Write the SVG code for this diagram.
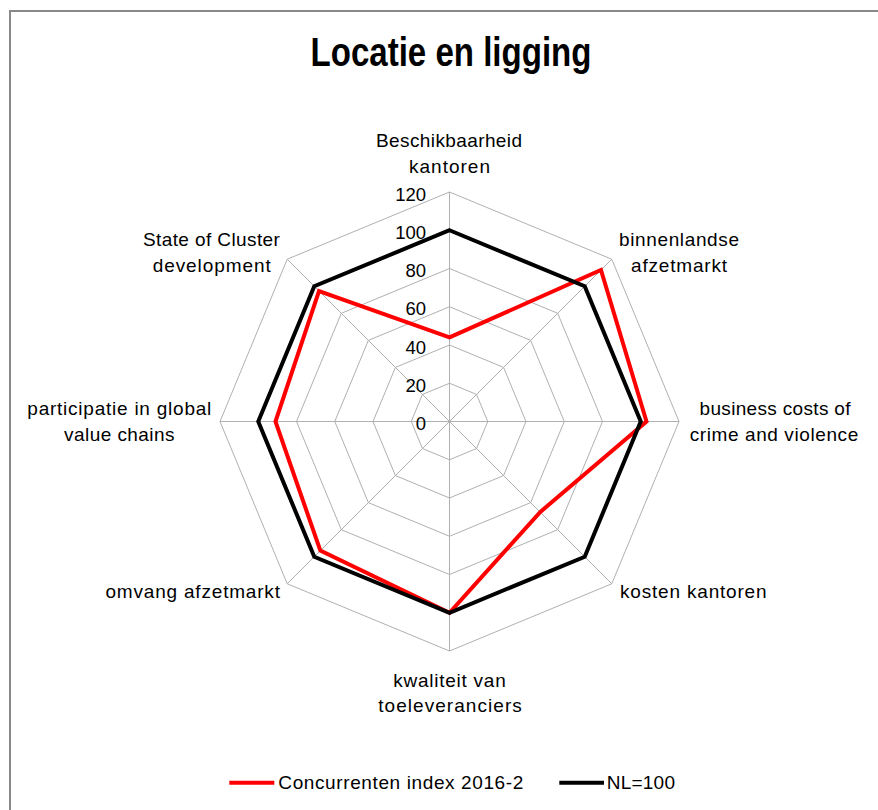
<svg xmlns="http://www.w3.org/2000/svg" width="878" height="810" viewBox="0 0 878 810">
<style>
.frame{fill:#ffffff;stroke:#898989;stroke-width:2}
.grid{fill:none;stroke:#b0b0b0;stroke-width:1}
.ser{fill:none;stroke-width:4;stroke-linejoin:miter;stroke-miterlimit:10}
.red{stroke:#ff0000}
.blk{stroke:#000000}
.lbl{font-family:"Liberation Sans",Arial,sans-serif;font-size:19px;fill:#000;text-anchor:middle}
.tick{font-family:"Liberation Sans",Arial,sans-serif;font-size:18.5px;fill:#000;text-anchor:end}
.title{font-family:"Liberation Sans",Arial,sans-serif;font-size:40px;font-weight:bold;fill:#000;text-anchor:middle}
.leg{font-family:"Liberation Sans",Arial,sans-serif;font-size:19px;fill:#000}
</style>
<rect class="frame" x="10" y="11" width="900" height="900"/>
<text class="title" x="451" y="66" textLength="281" lengthAdjust="spacingAndGlyphs">Locatie en ligging</text>
<g id="grid">
<polygon class="grid" points="449.5,383.25 476.55,394.45 487.75,421.5 476.55,448.55 449.5,459.75 422.45,448.55 411.25,421.5 422.45,394.45"/>
<polygon class="grid" points="449.5,345 503.59,367.41 526,421.5 503.59,475.59 449.5,498 395.41,475.59 373,421.5 395.41,367.41"/>
<polygon class="grid" points="449.5,306.75 530.64,340.36 564.25,421.5 530.64,502.64 449.5,536.25 368.36,502.64 334.75,421.5 368.36,340.36"/>
<polygon class="grid" points="449.5,268.5 557.69,313.31 602.5,421.5 557.69,529.69 449.5,574.5 341.31,529.69 296.5,421.5 341.31,313.31"/>
<polygon class="grid" points="449.5,230.25 584.73,286.27 640.75,421.5 584.73,556.73 449.5,612.75 314.27,556.73 258.25,421.5 314.27,286.27"/>
<polygon class="grid" points="449.5,192 611.78,259.22 679,421.5 611.78,583.78 449.5,651 287.22,583.78 220,421.5 287.22,259.22"/>
<path class="grid" d="M449.5,421.5L449.5,192M449.5,421.5L611.78,259.22M449.5,421.5L679,421.5M449.5,421.5L611.78,583.78M449.5,421.5L449.5,651M449.5,421.5L287.22,583.78M449.5,421.5L220,421.5M449.5,421.5L287.22,259.22"/>
</g>
<g id="ticks">
<text class="tick" x="426" y="430">0</text>
<text class="tick" x="426" y="391.75">20</text>
<text class="tick" x="426" y="353.5">40</text>
<text class="tick" x="426" y="315.25">60</text>
<text class="tick" x="426" y="277">80</text>
<text class="tick" x="426" y="238.75">100</text>
<text class="tick" x="426" y="200.5">120</text>
</g>
<g id="connectors">
<polygon id="series-concurrenten" class="ser red" points="449.5,337.35 600.96,270.04 646.49,421.5 540.11,512.11 449.5,612.75 320.35,550.65 275.46,421.5 319,291"/>
<polygon id="series-nl" class="ser blk" points="449.5,230.25 584.73,286.27 640.75,421.5 584.73,556.73 449.5,612.75 314.27,556.73 258.25,421.5 314.27,286.27"/>
</g>
<g id="node-beschikbaarheid">
<text class="lbl" x="449" y="146.5" textLength="146" lengthAdjust="spacing">Beschikbaarheid</text>
<text class="lbl" x="449.5" y="173" textLength="81" lengthAdjust="spacing">kantoren</text>
</g>
<g id="node-binnenlandse">
<text class="lbl" x="679" y="245.5" textLength="120" lengthAdjust="spacing">binnenlandse</text>
<text class="lbl" x="679" y="271.5" textLength="96" lengthAdjust="spacing">afzetmarkt</text>
</g>
<g id="node-business">
<text class="lbl" x="775" y="414.5" textLength="151" lengthAdjust="spacing">business costs of</text>
<text class="lbl" x="774" y="440.5" textLength="168.5" lengthAdjust="spacing">crime and violence</text>
</g>
<g id="node-kosten">
<text class="lbl" x="693.3" y="597.5" textLength="146.5" lengthAdjust="spacing">kosten kantoren</text>
</g>
<g id="node-kwaliteit">
<text class="lbl" x="449.5" y="686.5" textLength="112.5" lengthAdjust="spacing">kwaliteit van</text>
<text class="lbl" x="450" y="712" textLength="143.5" lengthAdjust="spacing">toeleveranciers</text>
</g>
<g id="node-omvang">
<text class="lbl" x="192.7" y="597.5" textLength="174.5" lengthAdjust="spacing">omvang afzetmarkt</text>
</g>
<g id="node-participatie">
<text class="lbl" x="119.3" y="415" textLength="184" lengthAdjust="spacing">participatie in global</text>
<text class="lbl" x="119.3" y="440.5" textLength="110.5" lengthAdjust="spacing">value chains</text>
</g>
<g id="node-state">
<text class="lbl" x="211.4" y="245.5" textLength="137" lengthAdjust="spacing">State of Cluster</text>
<text class="lbl" x="211.7" y="271.5" textLength="118" lengthAdjust="spacing">development</text>
</g>
<g id="legend">
<line class="ser red" x1="229.3" y1="782.7" x2="274.3" y2="782.7"/>
<text class="leg" x="278.3" y="789.3" textLength="245" lengthAdjust="spacing">Concurrenten index 2016-2</text>
<line class="ser blk" x1="559.3" y1="782.7" x2="604" y2="782.7"/>
<text class="leg" x="606.7" y="789.3" textLength="68.3" lengthAdjust="spacing">NL=100</text>
</g>
</svg>
